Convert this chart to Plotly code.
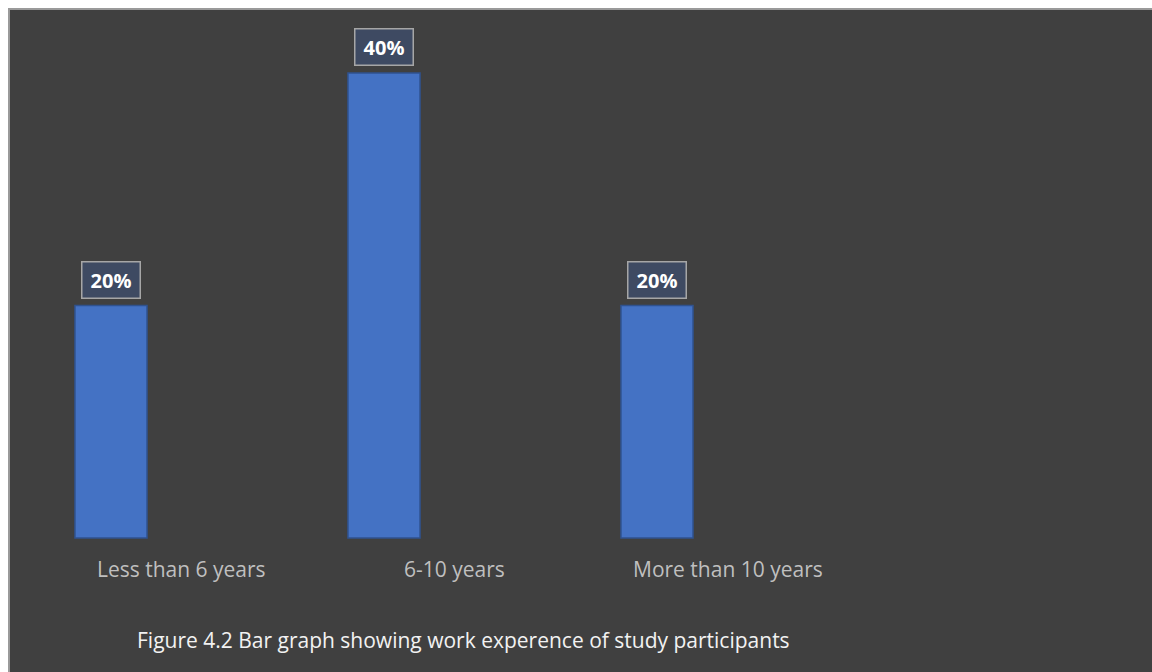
import plotly.graph_objects as go

categories = ["Less than 6 years", "6-10 years", "More than 10 years"]
values = [20, 40, 20]
value_labels = ["20%", "40%", "20%"]
caption = "Figure 4.2 Bar graph showing work experence of study participants"

x_pos = list(range(len(categories)))

fig = go.Figure()
fig.add_trace(go.Bar(
    x=x_pos, y=values, width=0.264,
    marker=dict(color="#4472c4", line=dict(color="#2f528f", width=1.5)),
    hoverinfo="skip",
))

for xi, v, t in zip(x_pos, values, value_labels):
    fig.add_annotation(
        x=xi, y=v, xref="x", yref="y", text="<b>%s</b>" % t, showarrow=False,
        yanchor="bottom", yshift=7, width=54, height=32, align="center", valign="middle",
        font=dict(family="Open Sans", size=20, color="#ffffff"),
        bgcolor="#3e4a62", bordercolor="#a6a6a6", borderwidth=1.5, borderpad=1.5,
    )

for xi, c in zip(x_pos, categories):
    fig.add_annotation(
        x=xi, y=0, xref="x", yref="y", text=c, showarrow=False,
        xanchor="center", yanchor="middle", xshift=71, yshift=-31,
        font=dict(family="Open Sans", size=21, color="#bfbfbf"),
    )

fig.add_annotation(
    x=0.3976, y=0.048, xref="paper", yref="paper", text=caption, showarrow=False,
    xanchor="center", yanchor="middle",
    font=dict(family="Open Sans", size=21, color="#f2f2f2"),
)

fig.add_shape(type="rect", xref="paper", yref="paper", x0=0, x1=1.01, y0=-0.01, y1=1,
              line=dict(color="#9a9a9a", width=2), fillcolor="rgba(0,0,0,0)", layer="above")

fig.update_layout(
    width=1152, height=672,
    margin=dict(l=9, r=0, t=9, b=0, pad=0),
    paper_bgcolor="#ffffff", plot_bgcolor="#404040",
    showlegend=False,
    xaxis=dict(range=[-0.3736, 3.8132], showgrid=False, zeroline=False,
               showticklabels=False, fixedrange=True),
    yaxis=dict(range=[-11.527, 45.505], showgrid=False, zeroline=False,
               showticklabels=False, fixedrange=True),
)

fig.write_html("out.html")
